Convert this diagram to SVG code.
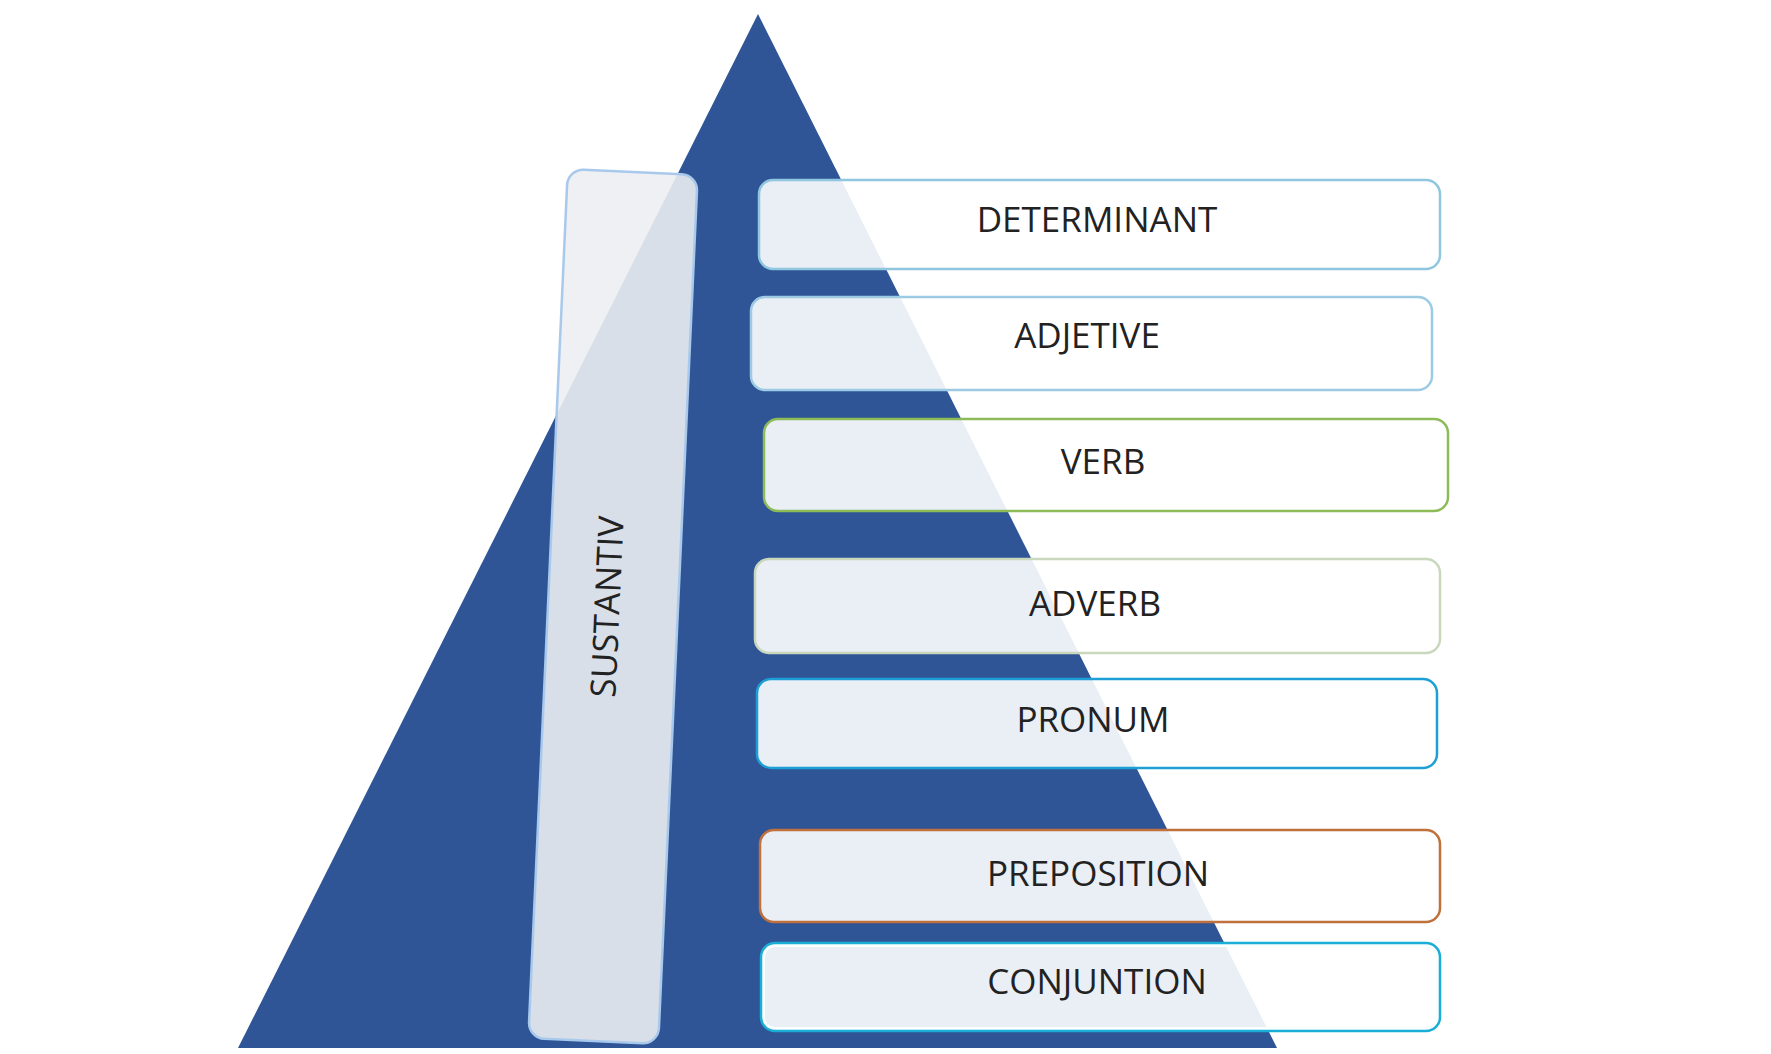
<svg xmlns="http://www.w3.org/2000/svg" width="1771" height="1054" viewBox="0 0 1771 1054">
  <style>
    .box { fill: #ffffff; fill-opacity: 0.9; stroke-width: 2.5; }
    .lbl { font-family: "Open Sans", "Liberation Sans", sans-serif; font-size: 35px; fill: #222222; text-anchor: middle; }
  </style>
  <rect x="0" y="0" width="1771" height="1054" fill="#ffffff"/>
  <g id="pyramid">
    <polygon points="758,14 238,1048 1277,1048" fill="#2f5597"/>
  </g>
  <g id="connectors"></g>
  <g id="sustantiv" transform="rotate(2.6 613 606.5)">
    <rect x="548" y="171.5" width="130" height="870" rx="16" fill="#eceef2" fill-opacity="0.9" stroke="#a9c9ec" stroke-width="2.5"/>
    <text class="lbl" x="0" y="0" transform="translate(619.5 607) rotate(-90)">SUSTANTIV</text>
  </g>
  <g id="determinant">
    <rect class="box" x="759" y="180" width="681" height="89" rx="14" stroke="#8fc6e0"/>
    <text class="lbl" x="1097" y="232">DETERMINANT</text>
  </g>
  <g id="adjetive">
    <rect class="box" x="751" y="297" width="681" height="93" rx="14" stroke="#9ccbe3"/>
    <text class="lbl" x="1087" y="348">ADJETIVE</text>
  </g>
  <g id="verb">
    <rect class="box" x="764" y="419" width="684" height="92" rx="14" stroke="#8dbb57"/>
    <text class="lbl" x="1103" y="474">VERB</text>
  </g>
  <g id="adverb">
    <rect class="box" x="755" y="559" width="685" height="94" rx="14" stroke="#c9d7bd"/>
    <text class="lbl" x="1095" y="616">ADVERB</text>
  </g>
  <g id="pronum">
    <rect class="box" x="757" y="679" width="680" height="89" rx="14" stroke="#1d9fd6"/>
    <text class="lbl" x="1093" y="732">PRONUM</text>
  </g>
  <g id="preposition">
    <rect class="box" x="760" y="830" width="680" height="92" rx="14" stroke="#c0703c"/>
    <text class="lbl" x="1098" y="886">PREPOSITION</text>
  </g>
  <g id="conjuntion">
    <rect x="763" y="945" width="675" height="84" rx="12" fill="none" stroke="#bff4ff" stroke-width="4"/>
    <rect class="box" x="761" y="943" width="679" height="88" rx="14" stroke="#1aaed6"/>
    <text class="lbl" x="1097" y="994">CONJUNTION</text>
  </g>
</svg>
